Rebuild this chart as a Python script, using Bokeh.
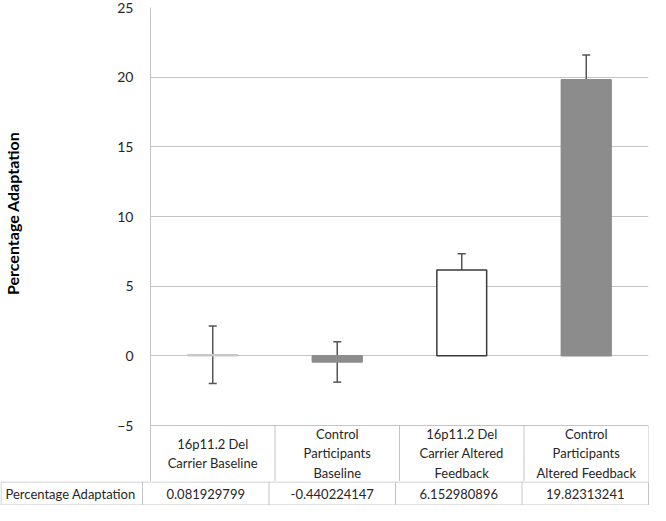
from bokeh.plotting import figure
from bokeh.models import Range1d, FixedTicker, ColumnDataSource, Whisker, TeeHead
from bokeh.core.properties import value
from bokeh.embed import file_html
from bokeh.resources import INLINE

categories = ["16p11.2 Del\nCarrier Baseline", "Control\nParticipants\nBaseline",
              "16p11.2 Del\nCarrier Altered\nFeedback", "Control\nParticipants\nAltered Feedback"]
values = [0.081929799, -0.440224147, 6.152980896, 19.82313241]
value_labels = ["0.081929799", "-0.440224147", "6.152980896", "19.82313241"]
errors = [2.06, 1.45, 1.175, 1.77]
y_ticks = [-5, 0, 5, 10, 15, 20, 25]
row_label = "Percentage Adaptation"
y_title = "Percentage Adaptation"

fills = ["white", "#8c8c8c", "white", "#8c8c8c"]
edges = ["#c8c8c8", "#8c8c8c", "#3a3a3a", "#8c8c8c"]

FONT = "Lato"
TXT = "#262626"
GRID = "#c4c4c4"

n = len(values)
xs = [i + 0.5 for i in range(n)]
y_lo, y_hi = y_ticks[0], y_ticks[-1]

src = ColumnDataSource(dict(
    x=xs, top=values,
    upper=[v + e for v, e in zip(values, errors)],
    lower=[v - e for v, e in zip(values, errors)],
    fill=fills, edge=edges,
))

W = 650
LEFT = 142
RIGHT = 2
TOP = 7
frame_w = W - LEFT - RIGHT
unit = frame_w / n

CHART_PX = 418          # pixels for the value axis span (-5..25)
HEADER_PX = 56          # pixels for the table header row
ROW_PX = 24             # pixels for the table data row
ppu = CHART_PX / (y_hi - y_lo)
y_bottom = y_lo - HEADER_PX / ppu

p = figure(width=W, height=TOP + CHART_PX + HEADER_PX, x_range=Range1d(0, n), y_range=Range1d(y_bottom, y_hi),
           output_backend="svg", toolbar_location=None, x_axis_location=None,
           min_border_left=LEFT, min_border_right=RIGHT, min_border_top=TOP, min_border_bottom=0)
p.outline_line_color = None
p.xgrid.visible = False
p.ygrid.grid_line_color = GRID
p.yaxis.ticker = FixedTicker(ticks=y_ticks)
p.yaxis.axis_line_color = GRID
p.yaxis.major_tick_line_color = None
p.yaxis.minor_tick_line_color = None
p.yaxis.major_label_text_font = FONT
p.yaxis.major_label_text_font_size = "14px"
p.yaxis.major_label_text_color = TXT
p.yaxis.major_label_standoff = 11
# leading no-break spaces lift the centred title to sit beside the value span, as in the original
p.yaxis.axis_label = "\u00a0" * 16 + y_title
p.yaxis.axis_label_text_font = FONT
p.yaxis.axis_label_text_font_style = "bold"
p.yaxis.axis_label_text_font_size = "16px"
p.yaxis.axis_label_text_color = "black"
p.yaxis.axis_label_standoff = 92

p.vbar(x="x", top="top", bottom=0, width=0.4, source=src,
       fill_color="fill", line_color="edge", line_width=1.5)

err_color = "#555555"
w = Whisker(source=src, base="x", upper="upper", lower="lower",
            line_color=err_color, line_width=1.5,
            upper_head=TeeHead(size=8, line_color=err_color, line_width=1.5),
            lower_head=TeeHead(size=8, line_color=err_color, line_width=1.5))
p.add_layout(w)

# header row of the data table (inside the chart frame, below -5)
cols = list(range(1, n + 1))
p.segment(x0=cols, y0=[y_lo] * n, x1=cols, y1=[y_bottom] * n, line_color=GRID, line_width=1)
p.text(x=xs, y=[(y_lo + y_bottom) / 2] * n, text=categories, text_align="center", text_baseline="middle",
       text_font=value(FONT), text_font_size="13px", text_color=TXT, text_line_height=1.2)

# data row of the table (full-width strip)
x_left = -LEFT / unit
t = figure(width=W, height=ROW_PX, x_range=Range1d(x_left, n + RIGHT / unit), y_range=Range1d(0, ROW_PX),
           output_backend="svg", toolbar_location=None,
           x_axis_location=None, y_axis_location=None, min_border=0)
t.outline_line_color = None
t.xgrid.visible = False
t.ygrid.visible = False

x_lc = x_left + 0.5 / unit
y_top_line = ROW_PX - 0.5
y_bot_line = 0.5
vx = [x_lc] + list(range(n + 1))
t.segment(x0=vx, y0=[ROW_PX] * len(vx), x1=vx, y1=[0] * len(vx), line_color=GRID, line_width=1)
t.segment(x0=[x_lc, x_lc], y0=[y_top_line, y_bot_line], x1=[n, n], y1=[y_top_line, y_bot_line],
          line_color=GRID, line_width=1)
t.text(x=xs, y=[ROW_PX / 2] * n, text=value_labels, text_align="center", text_baseline="middle",
       text_font=value(FONT), text_font_size="13px", text_color=TXT)
t.text(x=[x_left + 5 / unit], y=[ROW_PX / 2], text=[row_label], text_align="left", text_baseline="middle",
       text_font=value(FONT), text_font_size="13px", text_color=TXT)

open("out.html", "w").write(file_html([p, t], INLINE))
